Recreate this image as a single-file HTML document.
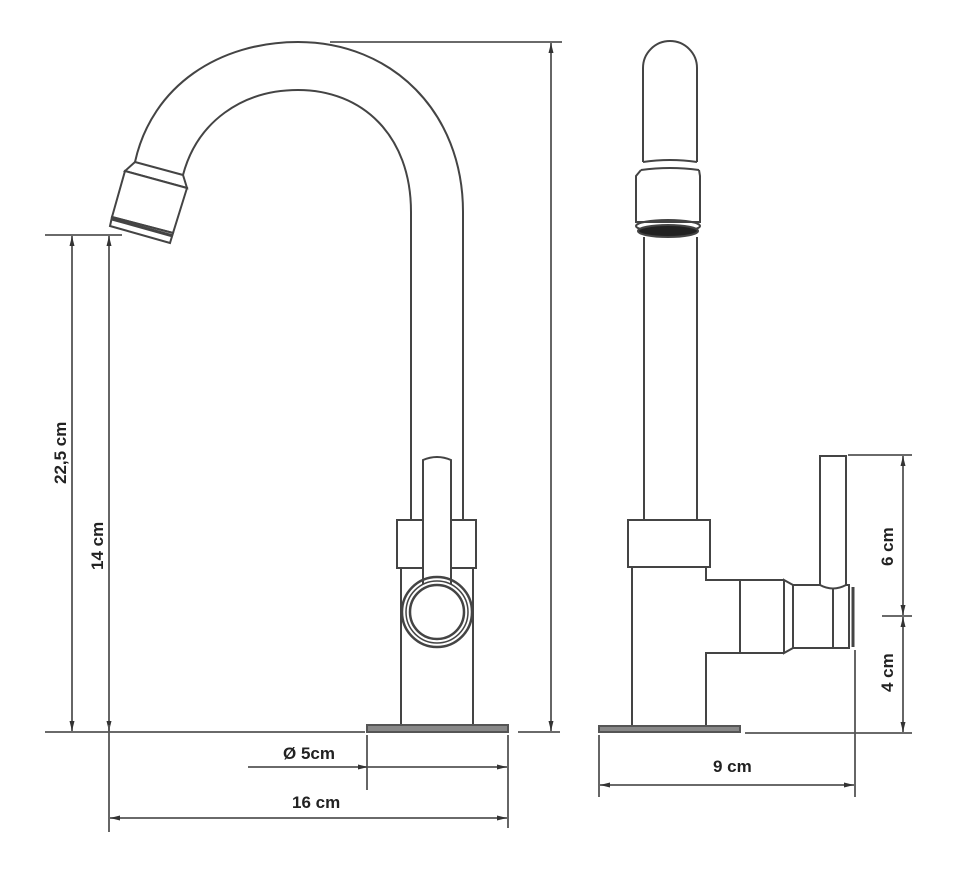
<!DOCTYPE html>
<html><head><meta charset="utf-8"><style>
html,body{margin:0;padding:0;background:#fff}
svg{display:block}
text{font-family:"Liberation Sans",Arial,sans-serif;font-weight:bold;fill:#222;font-size:17px}
</style></head><body>
<svg width="956" height="874" viewBox="0 0 956 874" xmlns="http://www.w3.org/2000/svg">
<defs>
<marker id="a" markerWidth="10" markerHeight="6" refX="10" refY="3" orient="auto-start-reverse" markerUnits="userSpaceOnUse"><path d="M0,0.5 L10,3 L0,5.5z" fill="#333"/></marker>
</defs>
<g fill="none" stroke="#444" stroke-width="2">
<!-- left faucet spout -->
<path d="M135,162 C152,85 220,42 298,42 C392,42 463,112 463,212 L463,520"/>
<path d="M183,175 C197,122 242,90 298,90 C362,90 411,135 411,212 L411,520"/>
<!-- nozzle -->
<polygon points="135,162 183,175 187,188 125,171" fill="#fff"/>
<polygon points="125,171 187,188 173,233 112,217" fill="#fff"/>
<polygon points="112,217 173,233 170,243 110,226" fill="#fff"/>
<line x1="112" y1="219" x2="173" y2="236" stroke-width="3"/>
<!-- collar -->
<rect x="397" y="520" width="79" height="48" fill="#fff"/>
<line x1="401" y1="568" x2="401" y2="725"/>
<line x1="473" y1="568" x2="473" y2="725"/>
<!-- handle -->
<path d="M423,596 L423,460 Q437,454 451,460 L451,596" fill="#fff"/>
<circle cx="437" cy="612" r="35" stroke-width="2.5"/>
<circle cx="437" cy="612" r="31" fill="#fff" stroke-width="1.5"/>
<circle cx="437" cy="612" r="27" stroke-width="2.5"/>
<!-- base -->
<rect x="367" y="725" width="141" height="7" fill="#888" stroke="#555"/>

<!-- right faucet -->
<path d="M643,162 L643,68 A27,27 0 0 1 697,68 L697,162"/>
<path d="M643,162 Q670,158 697,162 M641,170 Q670,166 699,170"/>
<path d="M641,170 L636,176 L636,222 L700,222 L700,176 L699,170"/>
<ellipse cx="668" cy="226" rx="32" ry="6"/>
<ellipse cx="668" cy="231" rx="30" ry="6" fill="#222"/>
<line x1="644" y1="237" x2="644" y2="520"/>
<line x1="697" y1="237" x2="697" y2="520"/>
<rect x="628" y="520" width="82" height="47" fill="#fff"/>
<path d="M632,567 L632,726 M706,726 L706,653 L784,653 M706,567 L706,580 L784,580"/>
<line x1="740" y1="580" x2="740" y2="653"/>
<path d="M784,580 L793,585 L793,648 L784,653 Z"/>
<path d="M793,585 L849,585 L849,648 L793,648"/>
<line x1="833" y1="585" x2="833" y2="648"/>
<line x1="853" y1="587" x2="853" y2="647" stroke-width="3"/>
<path d="M820,585 L820,456 L846,456 L846,585 Q833,592 820,585" fill="#fff"/>
<rect x="599" y="726" width="141" height="6" fill="#888" stroke="#555"/>
</g>

<!-- dimension lines -->
<g stroke="#555" stroke-width="1.8" fill="none">
<line x1="330" y1="42" x2="562" y2="42"/>
<line x1="518" y1="732" x2="560" y2="732"/>
<line x1="551" y1="43" x2="551" y2="731" marker-start="url(#a)" marker-end="url(#a)"/>
<line x1="45" y1="235" x2="122" y2="235"/>
<line x1="45" y1="732" x2="365" y2="732"/>
<line x1="72" y1="236" x2="72" y2="731" marker-start="url(#a)" marker-end="url(#a)"/>
<line x1="109" y1="236" x2="109" y2="731" marker-start="url(#a)" marker-end="url(#a)"/>
<line x1="109" y1="725" x2="109" y2="832"/>
<line x1="508" y1="735" x2="508" y2="828"/>
<line x1="367" y1="735" x2="367" y2="790"/>
<line x1="248" y1="767" x2="368" y2="767" marker-end="url(#a)"/>
<line x1="368" y1="767" x2="507" y2="767" marker-end="url(#a)"/>
<line x1="110" y1="818" x2="507" y2="818" marker-start="url(#a)" marker-end="url(#a)"/>
<line x1="848" y1="455" x2="912" y2="455"/>
<line x1="745" y1="733" x2="912" y2="733"/>
<line x1="882" y1="616" x2="912" y2="616"/>
<line x1="903" y1="456" x2="903" y2="615" marker-start="url(#a)" marker-end="url(#a)"/>
<line x1="903" y1="617" x2="903" y2="732" marker-start="url(#a)" marker-end="url(#a)"/>
<line x1="599" y1="735" x2="599" y2="797"/>
<line x1="855" y1="650" x2="855" y2="797"/>
<line x1="600" y1="785" x2="854" y2="785" marker-start="url(#a)" marker-end="url(#a)"/>
</g>
<text x="283" y="759">Ø 5cm</text>
<text x="292" y="808">16 cm</text>
<text x="713" y="772">9 cm</text>
<text transform="translate(66,484) rotate(-90)">22,5 cm</text>
<text transform="translate(103,570) rotate(-90)">14 cm</text>
<text transform="translate(893,566) rotate(-90)">6 cm</text>
<text transform="translate(893,692) rotate(-90)">4 cm</text>
</svg>
</body></html>
